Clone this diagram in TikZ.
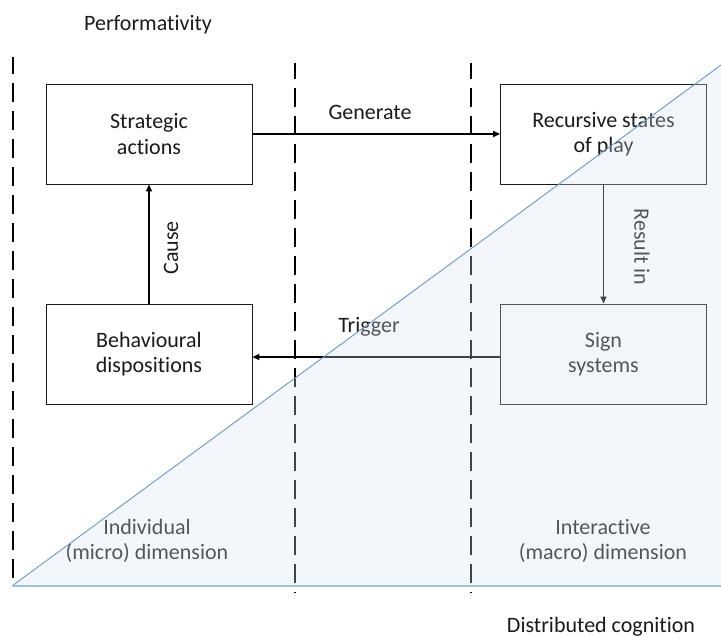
\documentclass[tikz,border=0pt]{standalone}
\usepackage{fontspec}
\setmainfont[Ligatures=NoCommon]{Carlito}
\usetikzlibrary{arrows.meta}
\definecolor{inkgrey}{HTML}{1A1A1A}
\definecolor{zonefill}{RGB}{214,228,241}
\definecolor{zoneline}{HTML}{6B98C6}
\definecolor{baseblue}{HTML}{9EC1E4}
\begin{document}
\begin{tikzpicture}[x=1pt,y=-1pt,
  every node/.style={font=\fontsize{22}{25.5}\selectfont, text=inkgrey},
  box/.style={draw=inkgrey, line width=0.9pt, fill=white, minimum width=206pt,
    minimum height=100pt, align=center, inner sep=0pt},
  link/.style={draw=black, line width=1.7pt, -{Triangle[length=7pt,width=6pt]}},
  divider/.style={draw=black, line width=2.2pt, dash pattern=on 19pt off 9pt},
  lbl/.style={inner sep=0pt, align=center}
]
\useasboundingbox (0,0) rectangle (721,637);

% vertical dashed dividers
\coordinate (d1top) at (13,57);
\coordinate (d1bot) at (13,578);
\coordinate (d2top) at (295,63);
\coordinate (d2bot) at (295,593);
\coordinate (d3top) at (471,63);
\coordinate (d3bot) at (471,593);
\draw[divider] (d1bot) -- (d1top);
\draw[divider, dash phase=18pt] (d2bot) -- (d2top);
\draw[divider, dash phase=18pt] (d3bot) -- (d3top);

% boxes
\node[box] (strat) at (149,134) {Strategic\\actions};
\node[box] (rec)   at (603.5,134) {Recursive states\\of play};
\node[box] (behav) at (149,354) {Behavioural\\dispositions};
\node[box] (sign)  at (603.5,354) {Sign\\systems};

% connectors
\draw[link] (strat.east) -- (rec.west);
\draw[link] (rec.south) -- (sign.north);
\draw[link] ([yshift=-3pt]sign.west) -- ([yshift=-3pt]behav.east);
\draw[link] (behav.north) -- (strat.south);

% connector labels
\node[lbl] (lgen)  at (370,112) {Generate};
\node[lbl] (ltrig) at (369,327) {Trigger};
\node[lbl, rotate=90]  (lcause) at (171,248) {Cause};
\node[lbl, rotate=-90] (lres)   at (642,247) {Result in};

% axis titles and zone labels
\node[lbl] (perf)  at (148,25) {Performativity};
\node[lbl, anchor=base] (distc) at (601,632) {Distributed cognition};
\node[lbl] (indiv) at (147,541) {Individual\\(micro) dimension};
\node[lbl] (inter) at (603,541) {Interactive\\(macro) dimension};

% translucent triangular zone on top
\coordinate (zoneA) at (12,586);
\coordinate (zoneB) at (721,586);
\coordinate (zoneC) at (721,65);
\fill[zonefill, fill opacity=0.3] (zoneA) -- (zoneB) -- (zoneC) -- cycle;
\draw[zoneline, line width=0.9pt] (zoneA) -- (zoneC);
\draw[baseblue, line width=1.4pt] (zoneA) -- (zoneB);
\end{tikzpicture}
\end{document}
